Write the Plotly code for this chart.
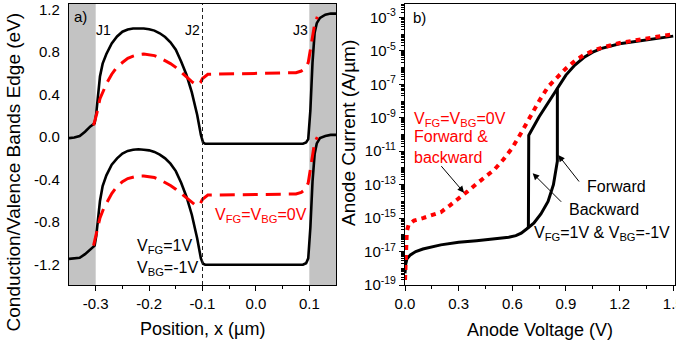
import plotly.graph_objects as go

# ---------------- Panel a) band diagram ----------------
# black solid: V_FG = 1 V, V_BG = -1 V
pos_bias = [-0.35, -0.34, -0.33, -0.32, -0.31, -0.302, -0.299, -0.296, -0.292, -0.287,
            -0.28, -0.27, -0.26, -0.25, -0.24, -0.23, -0.22, -0.21, -0.2, -0.19,
            -0.18, -0.17, -0.16, -0.15, -0.14, -0.13, -0.12, -0.11, -0.103, -0.099,
            -0.095, 0.0, 0.088, 0.094, 0.098, 0.102, 0.106, 0.11, 0.114, 0.12,
            0.13, 0.14, 0.15]
ec_bias = [-0.01, -0.005, 0.01, 0.05, 0.10, 0.13, 0.22, 0.40, 0.57, 0.69,
           0.78, 0.88, 0.945, 0.99, 1.01, 1.02, 1.02, 1.02, 1.012, 1.0,
           0.975, 0.94, 0.89, 0.82, 0.71, 0.585, 0.42, 0.21, 0.02, -0.05,
           -0.063, -0.063, -0.063, -0.05, -0.02, 0.25, 0.7, 0.98, 1.07, 1.12,
           1.15, 1.16, 1.16]
ev_bias = [-1.145, -1.14, -1.135, -1.10, -1.06, -1.02, -0.93, -0.78, -0.60, -0.46,
           -0.36, -0.26, -0.20, -0.155, -0.13, -0.12, -0.115, -0.12, -0.125, -0.14,
           -0.165, -0.2, -0.25, -0.32, -0.43, -0.56, -0.73, -0.95, -1.14, -1.19,
           -1.2, -1.2, -1.2, -1.185, -1.14, -0.85, -0.42, -0.16, -0.06, -0.01,
           0.01, 0.02, 0.02]

# red dashed: V_FG = V_BG = 0 V
pos_zero = [-0.304, -0.298, -0.292, -0.285, -0.279, -0.27, -0.26, -0.25, -0.24, -0.23,
            -0.22, -0.21, -0.2, -0.19, -0.18, -0.17, -0.16, -0.15, -0.14, -0.13,
            -0.12, -0.113, -0.108, -0.104, -0.1, -0.09, 0.0, 0.06, 0.075, 0.085,
            0.093, 0.098, 0.102, 0.106, 0.11, 0.115]
ec_zero = [0.11, 0.22, 0.36, 0.45, 0.51, 0.59, 0.66, 0.70, 0.74, 0.76,
           0.775, 0.78, 0.775, 0.765, 0.745, 0.72, 0.69, 0.655, 0.61, 0.56,
           0.52, 0.495, 0.49, 0.51, 0.55, 0.59, 0.6, 0.6, 0.605, 0.62,
           0.65, 0.7, 0.82, 0.96, 1.06, 1.13]
ev_zero = [-1.02, -0.90, -0.76, -0.67, -0.61, -0.53, -0.465, -0.42, -0.39, -0.375,
           -0.365, -0.365, -0.37, -0.38, -0.40, -0.425, -0.455, -0.49, -0.53, -0.575,
           -0.615, -0.64, -0.645, -0.625, -0.585, -0.545, -0.54, -0.54, -0.535, -0.52,
           -0.49, -0.43, -0.31, -0.15, -0.05, 0.0]

pos_ticks = [-0.3, -0.2, -0.1, 0.0, 0.1]
pos_ticktext = ["-0.3", "-0.2", "-0.1", "0.0", "0.1"]
band_ticks = [-1.2, -0.8, -0.4, 0.0, 0.4, 0.8, 1.2]
band_ticktext = ["-1.2", "-0.8", "-0.4", "0.0", "0.4", "0.8", "1.2"]

# ---------------- Panel b) I-V (log10 of A/um) ----------------
v_zero = [0.0, 0.002, 0.005, 0.01, 0.02, 0.05, 0.1, 0.15, 0.2, 0.25,
          0.3, 0.35, 0.4, 0.45, 0.5, 0.55, 0.6, 0.65, 0.7, 0.75,
          0.8, 0.85, 0.9, 0.95, 1.0, 1.05, 1.1, 1.2, 1.3, 1.4, 1.5]
log_i_zero = [-18.7, -17.8, -16.6, -15.8, -15.4, -15.15, -15.0, -14.85, -14.65, -14.25,
              -13.85, -13.4, -12.95, -12.55, -12.1, -11.5, -10.8, -9.9, -8.9, -8.0,
              -7.15, -6.6, -6.05, -5.6, -5.25, -5.0, -4.82, -4.53, -4.37, -4.2, -4.0]

v_fwd = [0.0, 0.003, 0.01, 0.03, 0.06, 0.1, 0.2, 0.3, 0.4, 0.5,
         0.58, 0.62, 0.65, 0.68, 0.72, 0.76, 0.8, 0.83, 0.845, 0.852,
         0.852, 0.9, 0.95, 1.0, 1.05, 1.1, 1.2, 1.3, 1.4, 1.5]
log_i_fwd = [-18.3, -17.8, -17.45, -17.2, -17.0, -16.85, -16.6, -16.45, -16.35, -16.25,
             -16.15, -16.05, -15.9, -15.65, -15.3, -14.75, -14.0, -13.0, -12.1, -11.6,
             -7.25, -6.45, -5.85, -5.4, -5.08, -4.85, -4.58, -4.42, -4.27, -4.12]

v_bwd = [0.852, 0.8, 0.75, 0.7, 0.692, 0.69]
log_i_bwd = [-7.25, -8.1, -8.94, -9.9, -10.05, -15.6]

volt_ticks = [0.0, 0.3, 0.6, 0.9, 1.2, 1.5]
volt_ticktext = ["0.0", "0.3", "0.6", "0.9", "1.2", "1.5"]
cur_exps = [-3, -5, -7, -9, -11, -13, -15, -17, -19]

i_zero = [10 ** v for v in log_i_zero]
i_fwd = [10 ** v for v in log_i_fwd]
i_bwd = [10 ** v for v in log_i_bwd]

RED = "#ff0000"
FONT = "Arial, 'Liberation Sans', sans-serif"

fig = go.Figure()

# black curves (panel a)
fig.add_trace(go.Scatter(x=pos_bias, y=ec_bias, mode="lines", line=dict(color="black", width=2.6),
                         xaxis="x", yaxis="y"))
fig.add_trace(go.Scatter(x=pos_bias, y=ev_bias, mode="lines", line=dict(color="black", width=2.6),
                         xaxis="x", yaxis="y"))
# red dashed (panel a)
fig.add_trace(go.Scatter(x=pos_zero, y=ec_zero, mode="lines",
                         line=dict(color=RED, width=3, dash="15px,8px"), xaxis="x", yaxis="y"))
fig.add_trace(go.Scatter(x=pos_zero, y=ev_zero, mode="lines",
                         line=dict(color=RED, width=3, dash="15px,8px"), xaxis="x", yaxis="y"))

# panel b
fig.add_trace(go.Scatter(x=v_fwd, y=i_fwd, mode="lines", line=dict(color="black", width=3),
                         xaxis="x2", yaxis="y2"))
fig.add_trace(go.Scatter(x=v_bwd, y=i_bwd, mode="lines", line=dict(color="black", width=3),
                         xaxis="x2", yaxis="y2"))
fig.add_trace(go.Scatter(x=v_zero, y=i_zero, mode="lines",
                         line=dict(color=RED, width=4, dash="5px,5px"), xaxis="x2", yaxis="y2"))

shapes = [
    dict(type="rect", xref="x", yref="y domain", x0=-0.35, x1=-0.3, y0=0, y1=1,
         fillcolor="#c3c3c3", line=dict(width=0), layer="below"),
    dict(type="rect", xref="x", yref="y domain", x0=0.1, x1=0.15, y0=0, y1=1,
         fillcolor="#c3c3c3", line=dict(width=0), layer="below"),
    dict(type="line", xref="x", yref="y domain", x0=-0.1, x1=-0.1, y0=0, y1=1,
         line=dict(color="#222222", width=1, dash="4px,3px")),
]

ann = []
def txt(text, x, y, xref, yref, size=16, color="black", xanchor="center", yanchor="middle", angle=0):
    ann.append(dict(text=text, x=x, y=y, xref=xref, yref=yref, showarrow=False,
                    font=dict(size=size, color=color, family=FONT),
                    xanchor=xanchor, yanchor=yanchor, textangle=angle))

# panel a texts
txt("a)", -0.329, 1.132, "x", "y", size=15)
txt("J1", -0.2845, 1.006, "x", "y", size=14)
txt("J2", -0.1187, 1.006, "x", "y", size=14)
txt("J3", 0.0826, 1.006, "x", "y", size=14)
txt("V<sub>FG</sub>=V<sub>BG</sub>=0V", -0.0803, -0.74, "x", "y", color=RED, xanchor="left")
txt("V<sub>FG</sub>=1V", -0.2264, -1.03, "x", "y", xanchor="left")
txt("V<sub>BG</sub>=-1V", -0.2264, -1.235, "x", "y", xanchor="left")

# panel b texts (y in log10 units)
txt("b)", 0.081, -3.0, "x2", "y2", size=15)
txt("V<sub>FG</sub>=V<sub>BG</sub>=0V", 0.039, -9.1, "x2", "y2", color=RED, xanchor="left")
txt("Forward &amp;", 0.039, -10.15, "x2", "y2", color=RED, xanchor="left")
txt("backward", 0.039, -11.35, "x2", "y2", color=RED, xanchor="left")
txt("Forward", 1.007, -13.14, "x2", "y2", xanchor="left")
txt("Backward", 0.906, -14.46, "x2", "y2", xanchor="left")
txt("V<sub>FG</sub>=1V &amp; V<sub>BG</sub>=-1V", 0.71, -15.9, "x2", "y2", xanchor="left")

# arrows
for hx, hy, dx, dy in [(0.33, -13.48, -24, -28), (0.714, -12.32, 30, 30), (0.857, -11.23, 22, 28)]:
    ann.append(dict(text="", x=hx, y=hy, xref="x2", yref="y2", showarrow=True, ax=dx, ay=dy,
                    arrowhead=2, arrowsize=1.3, arrowwidth=1, arrowcolor="black"))

# axis titles
txt("Conduction/Valence Bands Edge (eV)", -0.0908, 0.404, "paper", "paper", size=19, angle=-90)
txt("Anode Current (A/\u00b5m)", 0.4612, 0.5427, "paper", "paper", size=19, angle=-90)
txt("Position, x (\u00b5m)", 0.2203, -0.1566, "paper", "paper", size=18)
txt("Anode Voltage (V)", 0.7772, -0.160, "paper", "paper", size=18)

minor_log = [k * 10.0 ** n for n in range(-19, -2) for k in range(1, 10)
             if not (k == 1 and n % 2 == 1)]

axis_common = dict(showline=True, mirror=True, linecolor="black", linewidth=1.2,
                   showgrid=False, zeroline=False, automargin=False,
                   ticklabeloverflow="allow",
                   tickfont=dict(size=15, family=FONT, color="black"),
                   tickcolor="black")

fig.update_layout(
    width=676, height=345,
    margin=dict(l=69, r=1, t=4, b=60, autoexpand=False),
    paper_bgcolor="white", plot_bgcolor="white",
    showlegend=False,
    font=dict(family=FONT, color="black"),
    shapes=shapes, annotations=ann,
    xaxis=dict(domain=[0, 0.4406], range=[-0.35, 0.15], anchor="y",
               tickmode="array", tickvals=pos_ticks, ticktext=pos_ticktext,
               ticks="outside", ticklen=5, tickwidth=1,
               minor=dict(tickvals=[-0.25, -0.15, -0.05, 0.05], ticks="outside", ticklen=3,
                          tickcolor="black"),
               **axis_common),
    yaxis=dict(domain=[0, 1], range=[-1.39, 1.25], anchor="x",
               tickmode="array", tickvals=band_ticks, ticktext=band_ticktext,
               ticks="", ticklabelstandoff=5, **axis_common),
    xaxis2=dict(domain=[0.5545, 1], range=[0, 1.51], anchor="y2",
                tickmode="array", tickvals=volt_ticks, ticktext=volt_ticktext,
                ticks="outside", ticklen=5, tickwidth=1,
                minor=dict(tickvals=[0.15, 0.45, 0.75, 1.05, 1.35], ticks="outside", ticklen=3,
                           tickcolor="black"),
                **axis_common),
    yaxis2=dict(domain=[0, 1], type="log", range=[-19.0, -2.2], anchor="x2",
                tickmode="array", tickvals=[10.0 ** e for e in cur_exps],
                ticktext=["10<sup>%d</sup>" % e for e in cur_exps],
                ticks="outside", ticklen=5, tickwidth=1,
                minor=dict(tickvals=minor_log, ticks="outside", ticklen=3, tickcolor="black"),
                **axis_common),
)

fig.write_html("out.html", config={"displayModeBar": False},
               post_script="document.body.style.margin='0px';document.body.style.overflow='hidden';")
